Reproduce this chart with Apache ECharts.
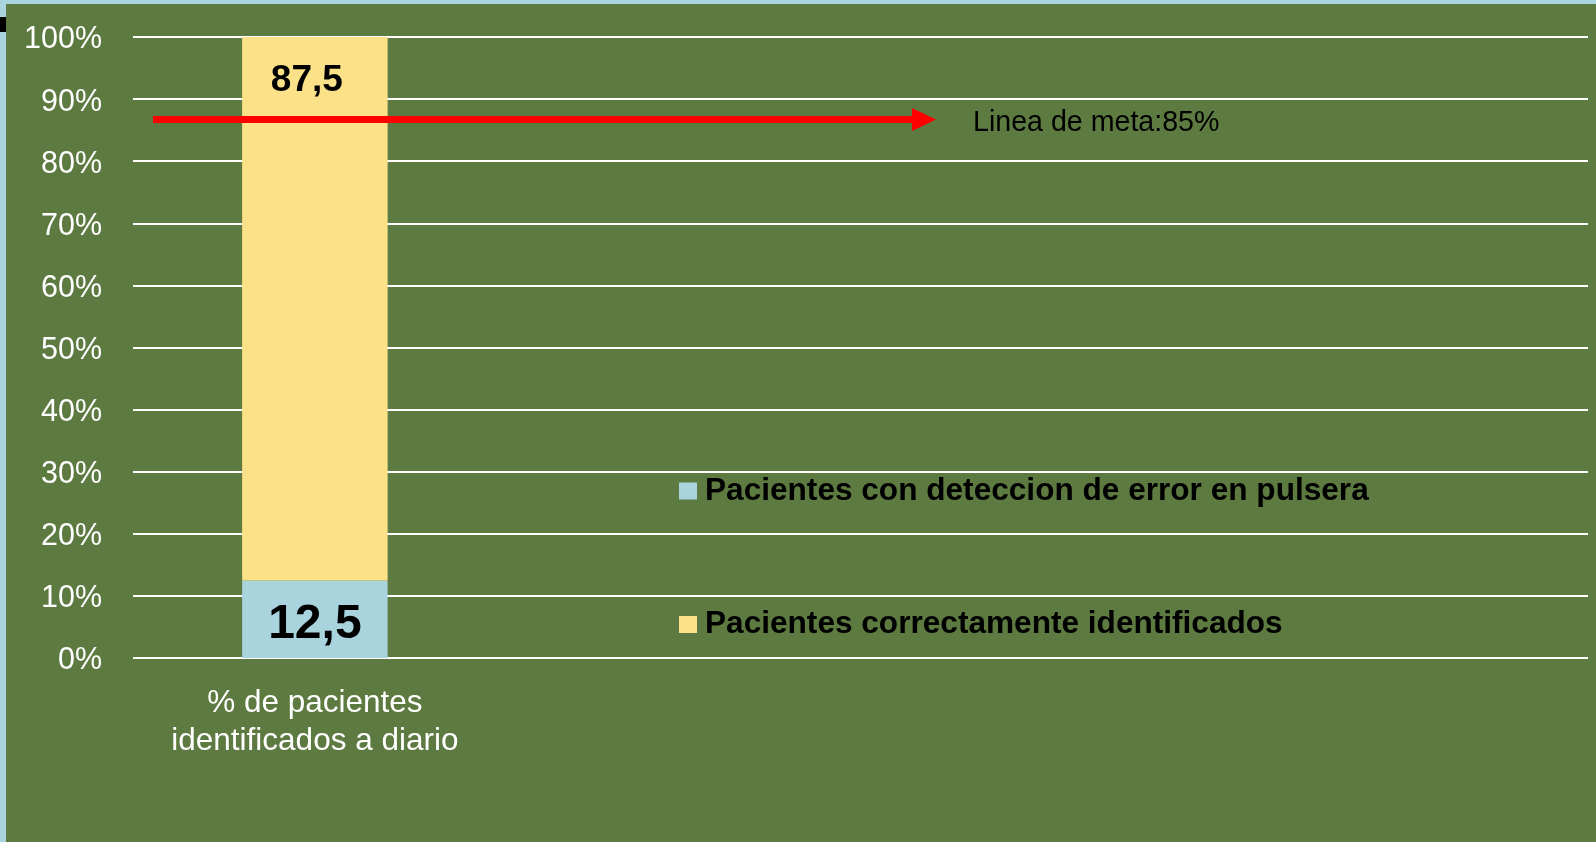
<!DOCTYPE html>
<html>
<head>
<meta charset="utf-8">
<script src="https://cdn.jsdelivr.net/npm/echarts@6/dist/echarts.min.js"></script>
<style>
html,body{margin:0;padding:0;background:#A9D4DE;}
#chart{width:1596px;height:842px;}
</style>
</head>
<body>
<div id="chart"></div>
<script>
const categories = ['% de pacientes\nidentificados a diario', '', '', ''];
const seriesNames = ['Pacientes con deteccion de error en pulsera', 'Pacientes correctamente identificados'];
const errorValues = [12.5, '-', '-', '-'];
const correctValues = [87.5, '-', '-', '-'];
const yTicks = { min: 0, max: 100, interval: 10 };
const metaArrowValue = 86.7;
const metaLabel = 'Linea de meta:85%';

const chart = echarts.init(document.getElementById('chart'));
const fmt = p => String(p.value).replace('.', ',');
const legendText = { color: '#000', fontSize: 31.6, lineHeight: 34, fontWeight: 'bold', fontFamily: "'Liberation Sans', Arial, sans-serif", padding: [0, 0, 0, 3] };

const option = {
  backgroundColor: '#5D7B40',
  animation: false,
  grid: { left: 133, right: 8, top: 37, bottom: 184 },
  xAxis: {
    type: 'category',
    data: categories,
    axisLine: { show: false },
    axisTick: { show: false },
    axisLabel: {
      interval: 0, color: '#FFFFFF', fontSize: 31.5, lineHeight: 38, margin: 26,
      fontFamily: "'Liberation Sans', Arial, sans-serif"
    }
  },
  yAxis: {
    type: 'value',
    min: yTicks.min, max: yTicks.max, interval: yTicks.interval,
    axisLine: { show: false },
    axisTick: { show: false },
    splitLine: { lineStyle: { color: '#FFFFFF', width: 2 } },
    axisLabel: {
      formatter: '{value}%', color: '#FFFFFF', fontSize: 30.5, margin: 31,
      verticalAlign: 'top', lineHeight: 6,
      fontFamily: "'Liberation Sans', Arial, sans-serif"
    }
  },
  legend: [
    {
      data: [seriesNames[0]], left: 679, top: 474, orient: 'vertical', padding: 0,
      itemWidth: 18, itemHeight: 17, icon: 'rect', textStyle: legendText
    },
    {
      data: [seriesNames[1]], left: 679, top: 607.5, orient: 'vertical', padding: 0,
      itemWidth: 18, itemHeight: 17, icon: 'rect', textStyle: legendText
    }
  ],
  series: [
    {
      name: seriesNames[0], type: 'bar', stack: 'total', data: errorValues,
      barWidth: '40%',
      itemStyle: { color: '#A9D4DE' },
      label: {
        show: true, position: 'inside', formatter: fmt, offset: [0, 6],
        color: '#000', fontSize: 48, fontWeight: 'bold',
        fontFamily: "'Liberation Sans', Arial, sans-serif"
      }
    },
    {
      name: seriesNames[1], type: 'bar', stack: 'total', data: correctValues,
      barWidth: '40%',
      itemStyle: { color: '#FBE187' },
      label: {
        show: true, position: 'insideTop', distance: 26, lineHeight: 36, formatter: fmt,
        offset: [-8, 0],
        color: '#000', fontSize: 37, fontWeight: 'bold',
        fontFamily: "'Liberation Sans', Arial, sans-serif"
      }
    }
  ]
};
chart.setOption(option);

function drawExtras() {
  const y = chart.convertToPixel({ yAxisIndex: 0 }, metaArrowValue);
  chart.setOption({
    graphic: [
      { type: 'rect', left: 0, top: 0, shape: { width: 1596, height: 4 }, style: { fill: '#A9D4DE' }, z: 100 },
      { type: 'rect', left: 0, top: 0, shape: { width: 6, height: 842 }, style: { fill: '#A9D4DE' }, z: 100 },
      { type: 'rect', left: 0, top: 17, shape: { width: 6, height: 15 }, style: { fill: '#000' }, z: 101 },
      { type: 'line', shape: { x1: 153, y1: y, x2: 914, y2: y }, style: { stroke: '#FF0000', lineWidth: 7 }, z: 50 },
      { type: 'polygon', shape: { points: [[912, y - 11.5], [936, y], [912, y + 11.5]] }, style: { fill: '#FF0000' }, z: 50 },
      { type: 'text', x: 973, y: y + 4, style: { text: metaLabel, fill: '#000', fontSize: 28.6, fontFamily: "'Liberation Sans', Arial, sans-serif", verticalAlign: 'middle', align: 'left' }, z: 50 }
    ]
  });
}
drawExtras();
</script>
</body>
</html>
